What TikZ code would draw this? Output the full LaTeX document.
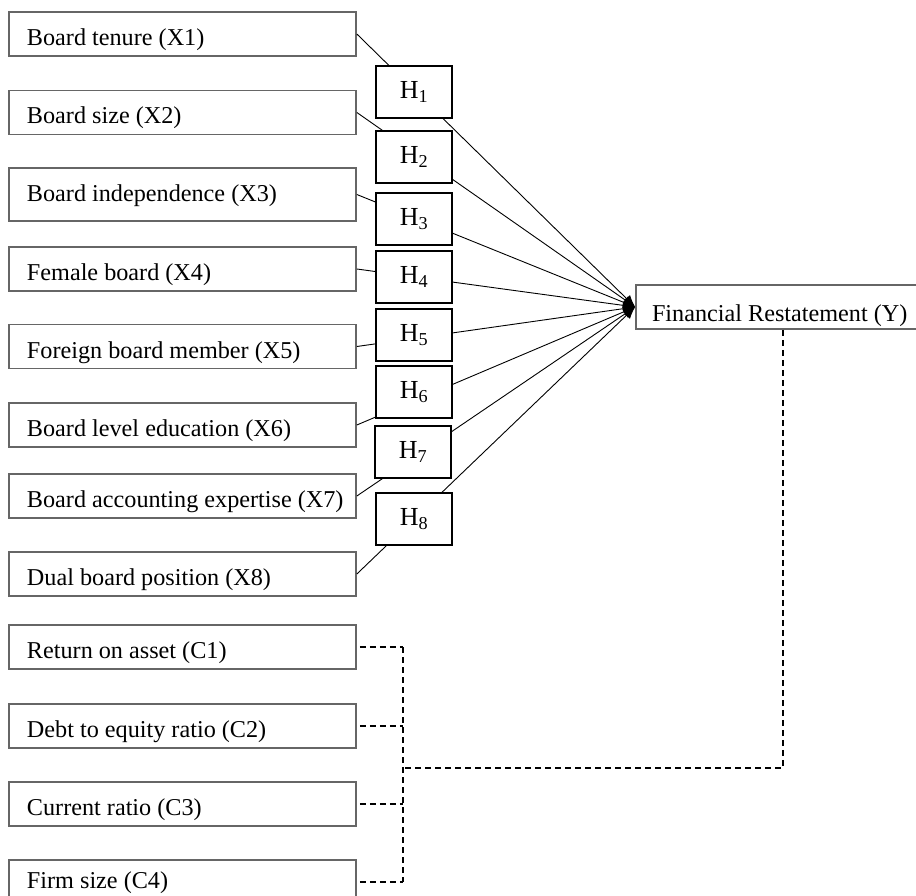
\documentclass[tikz,border=0pt]{standalone}
\usepackage{fontspec}
\setmainfont{Liberation Serif}
\usetikzlibrary{arrows.meta}
\begin{document}
\begin{tikzpicture}[x=1pt,y=-1pt,
  bfont/.style={font=\fontsize{24.2pt}{28pt}\selectfont},
  xbox/.style={draw=black!60, line width=1.7pt, bfont, minimum width=347pt, minimum height=44pt, inner sep=0pt, text height=27pt, text depth=4pt, execute at begin node={\hbox to 347pt\bgroup\kern18pt}, execute at end node={\hss\egroup}},
  ybox/.style={draw=black!60, line width=1.7pt, bfont, minimum width=294pt, minimum height=44pt, inner sep=0pt, text height=31pt, text depth=3pt, execute at begin node={\hbox to 294pt\bgroup\kern16pt}, execute at end node={\hss\egroup}},
  hypbox/.style={draw=black, line width=1.2pt, fill=white, minimum width=76pt, minimum height=52pt, inner sep=0pt, font=\fontsize{26pt}{30pt}\selectfont},
  link/.style={line width=0.9pt, -{Latex[length=12pt,width=10pt]}},
  dsh/.style={line width=1.1pt, dash pattern=on 6pt off 4pt}]
\path[use as bounding box] (0,0) rectangle (916,896);
\clip (0,0) rectangle (916,896);
\fill[white] (0,0) rectangle (916,896);

\node[xbox] (X1) at (182.5,34) {Board tenure (X1)};
\node[xbox] (X2) at (182.5,112.5) {Board size (X2)};
\node[xbox, minimum height=53pt, text height=22pt, text depth=7pt] (X3) at (182.5,194.5) {Board independence (X3)};
\node[xbox] (X4) at (182.5,269) {Female board (X4)};
\node[xbox] (X5) at (182.5,346.5) {Foreign board member (X5)};
\node[xbox] (X6) at (182.5,425) {Board level education (X6)};
\node[xbox] (X7) at (182.5,496) {Board accounting expertise (X7)};
\node[xbox] (X8) at (182.5,574) {Dual board position (X8)};

\node[xbox] (C1) at (182.5,647) {Return on asset (C1)};
\node[xbox] (C2) at (182.5,726) {Debt to equity ratio (C2)};
\node[xbox] (C3) at (182.5,804) {Current ratio (C3)};
\node[xbox, text height=20pt, text depth=7pt] (C4) at (182.5,882) {Firm size (C4)};

\node[ybox] (Y) at (783,307) {Financial Restatement (Y)};

\foreach \i in {1,...,8} \draw[link] (X\i.east) -- (Y.west);

\node[hypbox] (H1) at (414,92) {H\textsubscript{1}};
\node[hypbox] (H2) at (414,157) {H\textsubscript{2}};
\node[hypbox] (H3) at (414,219) {H\textsubscript{3}};
\node[hypbox] (H4) at (414,277) {H\textsubscript{4}};
\node[hypbox] (H5) at (414,335) {H\textsubscript{5}};
\node[hypbox] (H6) at (414,392) {H\textsubscript{6}};
\node[hypbox] (H7) at (413,452) {H\textsubscript{7}};
\node[hypbox] (H8) at (414,519) {H\textsubscript{8}};

\coordinate (J) at (403,768);
\draw[dsh] (Y.south) |- (J);
\draw[dsh] (C1.east -| J) -- (C4.east -| J);
\foreach \i in {1,...,4} \draw[dsh] ([xshift=3pt]C\i.east) -- (C\i.east -| J);
\end{tikzpicture}
\end{document}
